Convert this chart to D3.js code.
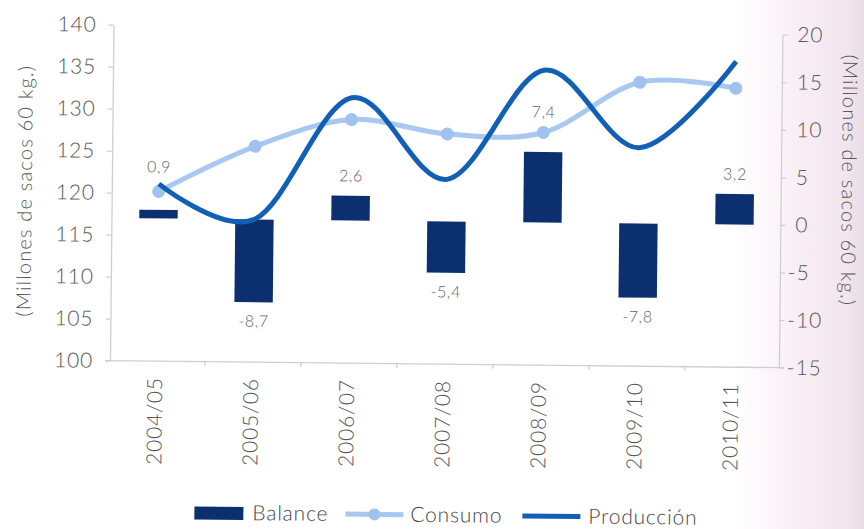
<!DOCTYPE html>
<html>
<head>
<meta charset="utf-8">
<script src="https://cdn.jsdelivr.net/npm/d3@7/dist/d3.min.js"></script>
<style>
  html, body { margin: 0; padding: 0; background: #ffffff; }
  svg { display: block; }
  text { font-family: Lato, "Open Sans", sans-serif; font-weight: 300; }
</style>
</head>
<body>
<svg id="chart" width="864" height="529"></svg>
<script>
// ---- data (millones de sacos de 60 kg) ----
const categories = ["2004/05", "2005/06", "2006/07", "2007/08", "2008/09", "2009/10", "2010/11"];
const consumo    = [120.2, 125.7, 129.0, 127.4, 127.7, 133.8, 133.2];
const produccion = [121.1, 117.0, 131.6, 122.0, 135.1, 126.0, 136.4];
const balance    = [0.9, -8.7, 2.6, -5.4, 7.4, -7.8, 3.2];
const leftTicks  = [100, 105, 110, 115, 120, 125, 130, 135, 140];
const rightTicks = [-15, -10, -5, 0, 5, 10, 15, 20];
const seriesNames = ["Balance", "Consumo", "Producción"];
const axisTitle = "(Millones de sacos 60 kg.)";

// ---- styling ----
const C = {
  bar: "#0b2f6f",
  prod: "#1160b6",
  cons: "#a7c8f0",
  consDot: "#9fc2ee",
  axis: "#cfcfcf",
  tick: "#555555",
  label: "#626262",
  legend: "#474747"
};
const FS = 21, LS = "0.8px";
const fmt = v => v.toFixed(1).replace(".", ",");

const svg = d3.select("#chart");

// soft tint of the page on the right-hand side
const defs = svg.append("defs");
const grad = defs.append("linearGradient").attr("id", "paper").attr("x1", 0).attr("x2", 1).attr("y1", 0).attr("y2", 0);
[[0, "#ffffff"], [0.85, "#ffffff"], [0.93, "#f8edf5"], [0.98, "#f2e5ee"], [1, "#e8dde4"]]
  .forEach(([o, c]) => grad.append("stop").attr("offset", o).attr("stop-color", c));
svg.append("rect").attr("width", 864).attr("height", 529).attr("fill", "url(#paper)");

// whole chart sits slightly tilted on the page
const g = svg.append("g").attr("transform", "rotate(0.6, 432, 264)");

// ---- scales ----
const plotLeft = 111, plotRight = 780, plotBottom = 364;
const x = d3.scaleBand().domain(categories).range([110, 782]).paddingInner(0).paddingOuter(0);
const xc = c => x(c) + x.bandwidth() / 2;
const barW = x.bandwidth() * 0.4;
const yL = d3.scaleLinear().domain([100, 140]).range([plotBottom, 28]);
const yR = d3.scaleLinear().domain([-15, 20]).range([plotBottom, 31]);
const intFmt = d => String(d);

// ---- left axis ----
const axL = g.append("g").attr("transform", `translate(${plotLeft},0)`)
  .call(d3.axisLeft(yL).tickValues(leftTicks).tickSize(5).tickSizeOuter(0).tickPadding(12).tickFormat(intFmt));
axL.select(".domain").attr("stroke", C.axis).attr("stroke-width", 1.3);
axL.selectAll(".tick line").attr("stroke", C.axis).attr("stroke-width", 1.3);
axL.selectAll(".tick text").attr("fill", C.tick).attr("font-size", FS).style("letter-spacing", LS);

// ---- right axis ----
const axR = g.append("g").attr("transform", `translate(${plotRight},0)`)
  .call(d3.axisRight(yR).tickValues(rightTicks).tickSize(5).tickSizeOuter(0).tickPadding(15).tickFormat(intFmt));
axR.select(".domain").attr("stroke", C.axis).attr("stroke-width", 1.3);
axR.selectAll(".tick line").attr("stroke", C.axis).attr("stroke-width", 1.3);
axR.selectAll(".tick text").attr("fill", C.tick).attr("font-size", FS).style("letter-spacing", LS)
  .attr("x", d => d < 0 ? 8 : 15);

// ---- bottom axis ----
g.append("line").attr("x1", 106).attr("x2", 785).attr("y1", plotBottom).attr("y2", plotBottom)
  .attr("stroke", C.axis).attr("stroke-width", 1.3);
g.selectAll(".xtick").data(categories.slice(1)).join("line").attr("class", "xtick")
  .attr("x1", d => x(d)).attr("x2", d => x(d))
  .attr("y1", plotBottom - 1).attr("y2", plotBottom + 4)
  .attr("stroke", C.axis).attr("stroke-width", 1.3);
g.selectAll(".xlab").data(categories).join("text").attr("class", "xlab")
  .attr("transform", d => `translate(${xc(d) - 2},${plotBottom + 16}) rotate(-90)`)
  .attr("text-anchor", "end").attr("dy", "0.35em")
  .attr("font-size", FS).style("letter-spacing", LS).attr("fill", C.tick)
  .text(d => d);

// ---- axis titles ----
g.append("text").attr("transform", "translate(24,195) rotate(-90)")
  .attr("text-anchor", "middle").attr("dy", "0.35em")
  .attr("font-size", 20).style("letter-spacing", "1.2px").attr("fill", C.tick).text(axisTitle);
g.append("text").attr("transform", "translate(848,176) rotate(90)")
  .attr("text-anchor", "middle").attr("dy", "0.35em")
  .attr("font-size", 20).style("letter-spacing", "1.2px").attr("fill", C.tick).text(axisTitle);

// ---- balance bars (right axis) ----
const bal = categories.map((c, i) => ({ c, v: balance[i] }));
g.selectAll(".bar").data(bal).join("rect").attr("class", "bar")
  .attr("x", d => xc(d.c) - barW / 2)
  .attr("width", barW)
  .attr("y", d => yR(Math.max(0, d.v)))
  .attr("height", d => Math.abs(yR(d.v) - yR(0)))
  .attr("fill", C.bar);

// value labels; two of them are lifted higher above their bars
const labelLift = [23, 0, 0, 0, 20, 0, 0];
g.selectAll(".blab").data(bal).join("text").attr("class", "blab")
  .attr("x", d => xc(d.c))
  .attr("y", (d, i) => d.v >= 0 ? yR(d.v) - 20 - labelLift[i] : yR(d.v) + 19)
  .attr("dy", "0.35em").attr("text-anchor", "middle")
  .attr("font-size", 16).style("letter-spacing", "0.6px").attr("fill", C.label)
  .text(d => fmt(d.v));

// ---- consumo line with markers (left axis) ----
const consPts = categories.map((c, i) => [xc(c), yL(consumo[i])]);
g.append("path").attr("d", d3.line().curve(d3.curveCardinal.tension(0))(consPts))
  .attr("fill", "none").attr("stroke", C.cons).attr("stroke-width", 5).attr("stroke-linecap", "round");
g.selectAll(".cdot").data(consPts).join("circle").attr("class", "cdot")
  .attr("cx", d => d[0]).attr("cy", d => d[1]).attr("r", 6.5).attr("fill", C.consDot);

// ---- produccion line (left axis) ----
const prodPts = categories.map((c, i) => [xc(c), yL(produccion[i])]);
g.append("path").attr("d", d3.line().curve(d3.curveCardinal.tension(0))(prodPts))
  .attr("fill", "none").attr("stroke", C.prod).attr("stroke-width", 5).attr("stroke-linecap", "butt");

// ---- legend ----
const lg = g.append("g").attr("font-size", FS).style("letter-spacing", LS).attr("fill", C.legend);
lg.append("rect").attr("x", 197).attr("y", 509).attr("width", 49).attr("height", 13).attr("fill", C.bar);
lg.append("text").attr("x", 255).attr("y", 522).text(seriesNames[0]);
lg.append("line").attr("x1", 348).attr("x2", 406).attr("y1", 515).attr("y2", 515)
  .attr("stroke", C.cons).attr("stroke-width", 5);
lg.append("circle").attr("cx", 377).attr("cy", 515).attr("r", 6).attr("fill", C.consDot);
lg.append("text").attr("x", 413).attr("y", 522).text(seriesNames[1]);
lg.append("line").attr("x1", 525).attr("x2", 583).attr("y1", 515).attr("y2", 515)
  .attr("stroke", C.prod).attr("stroke-width", 5);
lg.append("text").attr("x", 591).attr("y", 522).text(seriesNames[2]);
</script>
</body>
</html>
